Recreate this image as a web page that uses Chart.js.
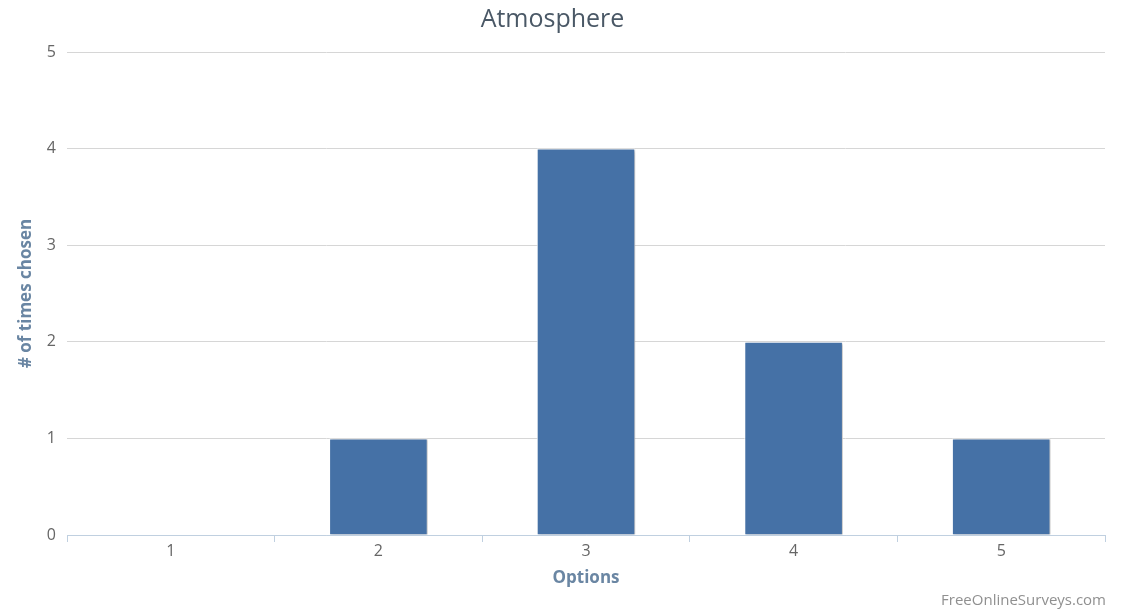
<!DOCTYPE html>
<html>
<head>
<meta charset="utf-8">
<title>Atmosphere</title>
<script src="https://cdn.jsdelivr.net/npm/chart.js@4.4.1/dist/chart.umd.min.js"></script>
<style>
  html, body { margin: 0; padding: 0; background: #ffffff; }
  #wrap { width: 1121px; height: 612px; position: relative; }
</style>
</head>
<body>
<div id="wrap"><canvas id="chart"></canvas></div>
<script>
// Survey question and answer counts
const chartTitle = 'Atmosphere';
const categories = ['1', '2', '3', '4', '5'];
const timesChosen = [0, 1, 4, 2, 1];
const yTicks = [0, 1, 2, 3, 4, 5];
const xAxisTitle = 'Options';
const yAxisTitle = '# of times chosen';
const creditText = 'FreeOnlineSurveys.com';

const FONT = "'Open Sans', 'DejaVu Sans', sans-serif";

// Soft drop shadow behind the bars
const barShadow = {
  id: 'barShadow',
  beforeDatasetsDraw(chart) {
    const ctx = chart.ctx;
    ctx.save();
    ctx.shadowColor = 'rgba(0,0,0,0.22)';
    ctx.shadowOffsetX = 2;
    ctx.shadowOffsetY = 1;
    ctx.shadowBlur = 2;
  },
  afterDatasetsDraw(chart) {
    chart.ctx.restore();
  }
};

// Credit line in the lower right corner
const credits = {
  id: 'credits',
  afterDraw(chart) {
    const ctx = chart.ctx;
    ctx.save();
    ctx.font = '15px ' + FONT;
    ctx.fillStyle = '#909090';
    ctx.textAlign = 'right';
    ctx.textBaseline = 'middle';
    ctx.fillText(creditText, 1106, 601);
    ctx.restore();
  }
};

new Chart(document.getElementById('chart'), {
  type: 'bar',
  data: {
    labels: categories,
    datasets: [{
      data: timesChosen,
      backgroundColor: '#4571A6',
      borderColor: '#ffffff',
      borderWidth: 1,
      categoryPercentage: 1.0,
      barPercentage: 0.475
    }]
  },
  options: {
    responsive: true,
    maintainAspectRatio: false,
    animation: false,
    layout: { padding: { left: 0, right: 16, top: 0, bottom: 0 } },
    plugins: {
      legend: { display: false },
      tooltip: { enabled: false },
      title: {
        display: true,
        text: chartTitle,
        color: '#4A5866',
        font: { family: FONT, size: 25, weight: 'normal', lineHeight: 1.2 },
        padding: { top: 5, bottom: 17 }
      }
    },
    scales: {
      x: {
        offset: true,
        grid: {
          display: true,
          offset: true,
          drawOnChartArea: false,
          drawTicks: true,
          tickLength: 7,
          color: '#C0D0E0',
          lineWidth: 1
        },
        border: { display: true, color: '#C0D0E0', width: 1 },
        ticks: {
          color: '#666666',
          padding: 0,
          font: { family: FONT, size: 16 }
        },
        title: {
          display: true,
          text: xAxisTitle,
          color: '#6A86A3',
          font: { family: FONT, size: 17, weight: 'bold', lineHeight: 1.2 },
          padding: { top: 0, bottom: 24 }
        },
        afterFit(scale) { scale.height = 77; }
      },
      y: {
        min: 0,
        max: 5,
        afterBuildTicks(scale) { scale.ticks = yTicks.map(v => ({ value: v })); },
        grid: {
          color: '#D6D6D6',
          lineWidth: 1,
          drawTicks: false
        },
        border: { display: false },
        ticks: {
          color: '#666666',
          padding: 11,
          font: { family: FONT, size: 16 }
        },
        title: {
          display: true,
          text: yAxisTitle,
          color: '#6A86A3',
          font: { family: FONT, size: 17, weight: 'bold', lineHeight: 1.2 },
          padding: { top: 16, bottom: 0 }
        },
        afterFit(scale) { scale.width = 67; }
      }
    }
  },
  plugins: [barShadow, credits]
});
</script>
</body>
</html>
